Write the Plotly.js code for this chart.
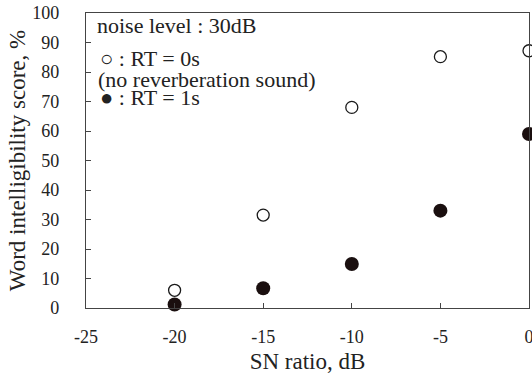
<!DOCTYPE html>
<html><head><meta charset="utf-8">
<script src="https://cdn.plot.ly/plotly-3.0.1.min.js"></script>
<style>body{margin:0}#c{width:532px;height:374px}</style>
</head><body><div id="c"></div>
<script>
const snRatio = [-20, -15, -10, -5, 0];
const rt0 = [6, 31.5, 68, 85.2, 87.2];
const rt1 = [1.2, 6.7, 14.9, 33, 59];
const xTicks = [-25, -20, -15, -10, -5, 0];
const xTickText = ['-25', '-20', '-15', '-10', '-5', '0'];
const yTicks = [0, 10, 20, 30, 40, 50, 60, 70, 80, 90, 100];

const serif = "Liberation Serif, Times New Roman, serif";
const ink = '#222';
const traces = [
  {x: snRatio, y: rt0, type: 'scatter', mode: 'markers', cliponaxis: false,
   marker: {symbol: 'circle-open', size: 12, color: '#1a1a1a', line: {width: 1.3, color: '#1a1a1a'}}},
  {x: snRatio, y: rt1, type: 'scatter', mode: 'markers', cliponaxis: false,
   marker: {symbol: 'circle', size: 14, color: '#1a0f0f'}}
];
const layout = {
  width: 532, height: 374,
  margin: {l: 86, r: 3, t: 13, b: 66},
  showlegend: false,
  paper_bgcolor: 'white', plot_bgcolor: 'white',
  font: {family: serif, size: 18, color: ink},
  xaxis: {range: [-25, 0], tickvals: xTicks, ticktext: xTickText, ticks: 'inside', ticklen: 5, tickcolor: '#444',
          showline: true, mirror: true, linecolor: '#444', linewidth: 1.2, showgrid: false, zeroline: false,
          ticklabeloverflow: 'allow', ticklabelstandoff: 12,
          tickfont: {size: 18}, title: {text: 'SN ratio, dB', font: {size: 23}, standoff: 11}},
  yaxis: {range: [0, 100], tickvals: yTicks, ticks: 'inside', ticklen: 5, tickcolor: '#444',
          showline: true, mirror: true, linecolor: '#444', linewidth: 1.2, showgrid: false, zeroline: false,
          ticklabeloverflow: 'allow', ticklabelstandoff: 22,
          tickfont: {size: 18}, title: {text: 'Word intelligibility score, %', font: {size: 23}, standoff: 0}},
  annotations: [
    {xref: 'paper', yref: 'paper', x: 0.02, y: 1.006, xanchor: 'left', yanchor: 'top', showarrow: false,
     text: 'noise level : 30dB', font: {size: 22, color: ink}},
    {xref: 'paper', yref: 'paper', x: 0.028, y: 0.895, xanchor: 'left', yanchor: 'top', showarrow: false,
     text: '○ : RT = 0s', font: {size: 22, color: ink}},
    {xref: 'paper', yref: 'paper', x: 0.022, y: 0.825, xanchor: 'left', yanchor: 'top', showarrow: false,
     text: '(no reverberation sound)', font: {size: 22, color: ink}},
    {xref: 'paper', yref: 'paper', x: 0.028, y: 0.762, xanchor: 'left', yanchor: 'top', showarrow: false,
     text: '● : RT = 1s', font: {size: 22, color: ink}}
  ]
};
Plotly.newPlot('c', traces, layout, {displayModeBar: false, staticPlot: true});
</script></body></html>
